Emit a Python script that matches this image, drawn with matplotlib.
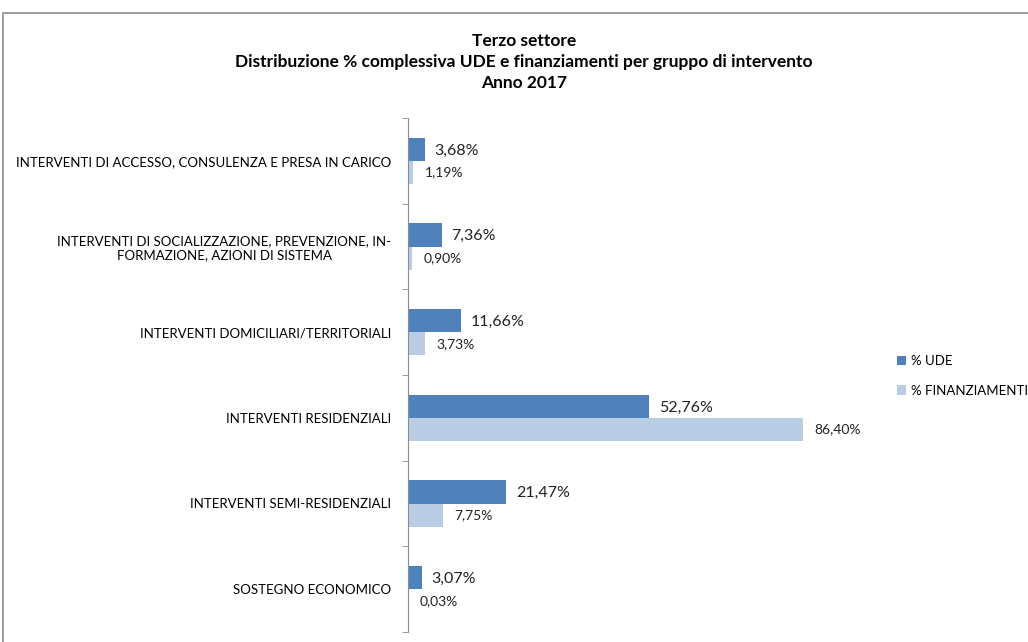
import numpy as np
import matplotlib
matplotlib.use('Agg')
import matplotlib.pyplot as plt
from matplotlib.patches import Rectangle

categories = [
    'INTERVENTI DI ACCESSO, CONSULENZA E PRESA IN CARICO',
    'INTERVENTI DI SOCIALIZZAZIONE, PREVENZIONE, IN-\nFORMAZIONE, AZIONI DI SISTEMA',
    'INTERVENTI DOMICILIARI/TERRITORIALI',
    'INTERVENTI RESIDENZIALI',
    'INTERVENTI SEMI-RESIDENZIALI',
    'SOSTEGNO ECONOMICO',
]
ude = [3.68, 7.36, 11.66, 52.76, 21.47, 3.07]
finanziamenti = [1.19, 0.90, 3.73, 86.40, 7.75, 0.03]
series_names = ['% UDE', '% FINANZIAMENTI']
title = ('Terzo settore\n'
         'Distribuzione % complessiva UDE e finanziamenti per gruppo di intervento\n'
         'Anno 2017')

C_UDE = '#4F81BD'
C_FIN = '#B9CDE5'

plt.rcParams['font.family'] = ['Lato', 'DejaVu Sans']


def fmt(v):
    return f'{v:.2f}%'.replace('.', ',')


def main() -> None:
    fig = plt.figure(figsize=(10.28, 6.42), dpi=100)
    fig.patches.append(Rectangle((3 / 1028, -0.01), 1.1, 1 - 13 / 642 + 0.01,
                                 transform=fig.transFigure, fill=False,
                                 edgecolor='#8c8c8c', linewidth=1.2))
    ax = fig.add_axes([408 / 1028, 10 / 642, (865 - 408) / 1028, (632 - 118) / 642])

    n = len(categories)
    y = np.arange(n)
    h = 0.27
    b1 = ax.barh(y - h / 2, ude, height=h, color=C_UDE, label=series_names[0])
    b2 = ax.barh(y + h / 2, finanziamenti, height=h, color=C_FIN,
                 label=series_names[1])

    for rect, v in zip(b1, ude):
        ax.annotate(fmt(v), (rect.get_width(), rect.get_y() + rect.get_height() / 2),
                    xytext=(7, -1), textcoords='offset points', va='center',
                    fontsize=11.5, color='#222222')
    for rect, v in zip(b2, finanziamenti):
        ax.annotate(fmt(v), (rect.get_width(), rect.get_y() + rect.get_height() / 2),
                    xytext=(8, 0), textcoords='offset points', va='center',
                    fontsize=10, color='#222222')

    ax.set_xlim(0, 100)
    ax.set_ylim(n - 0.5, -0.5)
    ax.set_yticks(y)
    ax.set_yticklabels(categories, fontsize=9.5, multialignment='center')
    ax.set_yticks(np.arange(-0.5, n, 1), minor=True)
    ax.tick_params(axis='y', which='major', length=0, pad=12)
    ax.tick_params(axis='y', which='minor', length=4, color='#8c8c8c',
                   direction='out')
    ax.set_xticks([])
    for s in ['top', 'right', 'bottom']:
        ax.spines[s].set_visible(False)
    ax.spines['left'].set_color('#8c8c8c')

    fig.text(524 / 1028, 1 - 62 / 642, title, ha='center', va='center',
             fontsize=12.5, fontweight='bold', linespacing=1.35)

    fig.legend(handles=[b1, b2], loc='center left',
               bbox_to_anchor=(885 / 1028, 1 - 376 / 642), frameon=False,
               fontsize=9.5, handlelength=0.7, handleheight=0.7,
               handletextpad=0.4, labelspacing=1.3)

    fig.savefig('out.png', dpi=100)


if __name__ == '__main__':
    main()
